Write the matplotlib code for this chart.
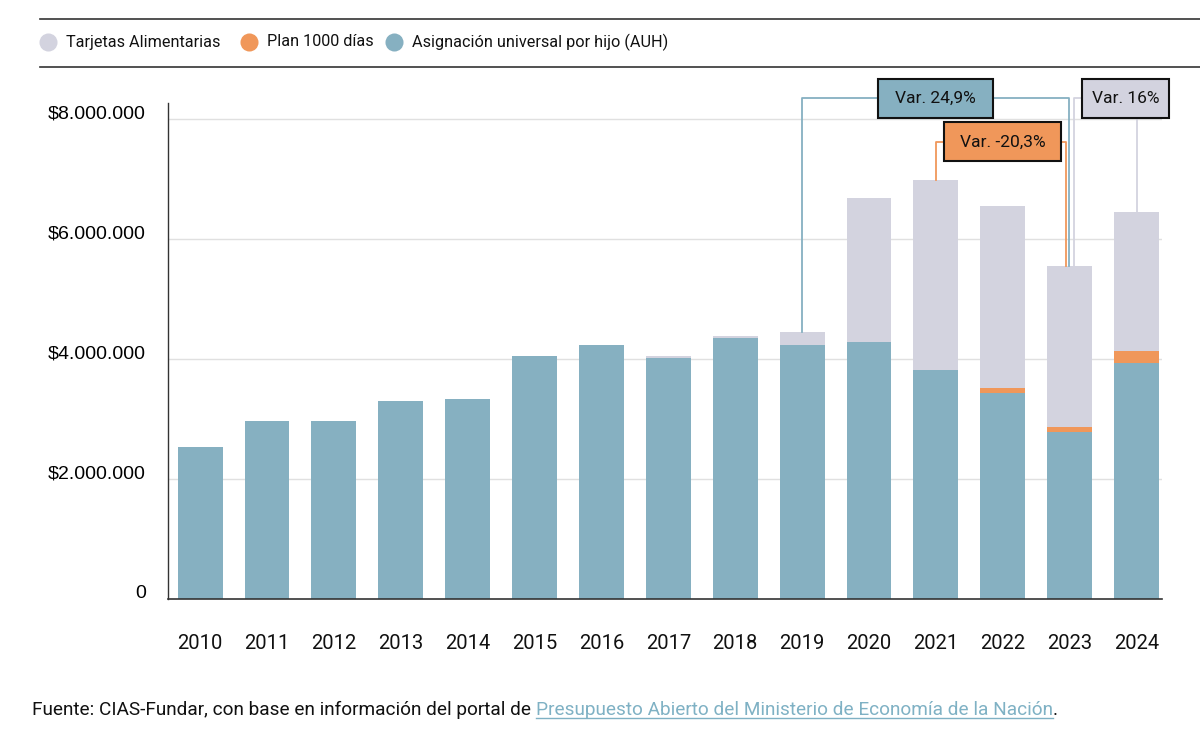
import matplotlib
matplotlib.use("Agg")
import matplotlib.pyplot as plt
from matplotlib.patches import Rectangle
from matplotlib.lines import Line2D
from matplotlib.transforms import offset_copy
import numpy as np

# ---------------- data ----------------
years = ["2010", "2011", "2012", "2013", "2014", "2015", "2016", "2017",
         "2018", "2019", "2020", "2021", "2022", "2023", "2024"]
auh = [2530000, 2970000, 2970000, 3300000, 3330000, 4045000, 4230000, 4020000,
       4350000, 4230000, 4280000, 3820000, 3440000, 2790000, 3940000]
plan1000 = [0, 0, 0, 0, 0, 0, 0, 0, 0, 0, 0, 0, 70000, 70000, 195000]
tarjetas = [0, 0, 0, 0, 0, 0, 0, 30000, 30000, 220000, 2400000, 3160000,
            3040000, 2700000, 2320000]
series_names = ["Tarjetas Alimentarias", "Plan 1000 días",
                "Asignación universal por hijo (AUH)"]
yticks = [0, 2000000, 4000000, 6000000, 8000000]
ytick_labels = ["0", "$2.000.000", "$4.000.000", "$6.000.000", "$8.000.000"]
var_labels = ["Var. 24,9%", "Var. -20,3%", "Var. 16%"]

C_AUH = "#86b0c1"
C_PLAN = "#f0975a"
C_TAR = "#d3d3df"
C_TXT = "#111111"

FONT = "Roboto"

fig = plt.figure(figsize=(12, 7.34), dpi=100)
ax = fig.add_axes([168/1200, 1-599/734, (1162-168)/1200, (599-103)/734])

x = np.arange(len(years))
auh_a = np.array(auh)
plan_a = np.array(plan1000)
tar_a = np.array(tarjetas)
w = 0.67
ax.bar(x, auh_a, width=w, color=C_AUH, zorder=2)
ax.bar(x, plan_a, width=w, bottom=auh_a, color=C_PLAN, zorder=2)
ax.bar(x, tar_a, width=w, bottom=auh_a + plan_a, color=C_TAR, zorder=2)

ax.set_xlim(-0.48, 14.38)
ax.set_ylim(0, 8270000)
ax.set_yticks(yticks)
ax.set_yticklabels(ytick_labels, fontsize=14, family="Liberation Sans", color="#000000")
ax.set_xticks(x)
ax.set_xticklabels(years, fontsize=14.5, family=FONT, color=C_TXT)
ax.tick_params(axis="y", length=0, pad=16)
ax.tick_params(axis="x", length=0, pad=25)
for lab in ax.get_yticklabels():
    lab.set_transform(offset_copy(lab.get_transform(), fig=fig, x=0, y=7, units="dots"))

for y in yticks[1:]:
    ax.axhline(y, color="#e0e0e0", lw=1, zorder=1)
for s in ["top", "right"]:
    ax.spines[s].set_visible(False)
ax.spines["left"].set_color("#333333")
ax.spines["bottom"].set_color("#333333")
ax.spines["left"].set_linewidth(1)
ax.spines["bottom"].set_linewidth(1.2)

# ---------------- annotations ----------------
tot = auh_a + plan_a + tar_a
i19, i21, i23, i24 = 9, 11, 13, 14
lw = 1.3

def box(xc, yc, wd, ht, fc, txt):
    ax.add_patch(Rectangle((xc - wd/2, yc - ht/2), wd, ht, facecolor=fc,
                           edgecolor="#111111", lw=1.5, clip_on=False, zorder=5))
    ax.text(xc, yc, txt, ha="center", va="center", fontsize=12.5, family=FONT,
            color=C_TXT, clip_on=False, zorder=6)

# teal: 2019 -> 2023
yb1 = 8350000
ax.plot([x[i19], x[i19], 10.13], [tot[i19], yb1, yb1], color=C_AUH, lw=lw,
        clip_on=False, zorder=4)
ax.plot([11.85, x[i23] - 0.01, x[i23] - 0.01], [yb1, yb1, tot[i23]], color=C_AUH,
        lw=lw, clip_on=False, zorder=4)
box(10.99, yb1, 1.72, 650000, C_AUH, var_labels[0])

# orange: 2021 -> 2023
yb2 = 7620000
ax.plot([x[i21], x[i21], 11.12], [tot[i21], yb2, yb2], color=C_PLAN, lw=lw,
        clip_on=False, zorder=4)
ax.plot([12.87, x[i23] - 0.055, x[i23] - 0.055], [yb2, yb2, tot[i23]], color=C_PLAN,
        lw=lw, clip_on=False, zorder=4)
box(11.995, yb2, 1.75, 650000, C_PLAN, var_labels[1])

# gray: 2023 -> 2024
ax.plot([13.18, x[i23] + 0.065, x[i23] + 0.065], [yb1, yb1, tot[i23]], color=C_TAR,
        lw=lw, clip_on=False, zorder=3)
ax.plot([x[i24], x[i24]], [yb1 - 325000, tot[i24]], color=C_TAR, lw=lw,
        clip_on=False, zorder=3)
box(13.84, yb1, 1.30, 650000, C_TAR, var_labels[2])

# ---------------- legend ----------------
for yy in [19, 67]:
    fig.add_artist(Line2D([40/1200, 1.0], [1-yy/734, 1-yy/734], color="#333333", lw=1.2))
leg_cols = [C_TAR, C_PLAN, C_AUH]
leg_x = [48, 249, 394]
for cx, col, name in zip(leg_x, leg_cols, series_names):
    fig.add_artist(Line2D([cx/1200], [1-42/734], marker="o", markersize=13,
                          color=col, markeredgewidth=0, linestyle="none"))
    fig.text((cx + 18)/1200, 1-42/734, name, ha="left", va="center",
             fontsize=11.7, family=FONT, color=C_TXT)

# ---------------- footer ----------------
fig.canvas.draw()
r = fig.canvas.get_renderer()
fy = 1 - 710/734
fs = 13.7
t1 = fig.text(32/1200, fy, "Fuente: CIAS-Fundar, con base en información del portal de ",
              ha="left", va="center", fontsize=fs, family=FONT, color=C_TXT)
bb1 = t1.get_window_extent(r)
link = "Presupuesto Abierto del Ministerio de Economía de la Nación"
t2 = fig.text(bb1.x1/1200, fy, link, ha="left", va="center", fontsize=fs,
              family=FONT, color="#7fb1c4")
bb2 = t2.get_window_extent(r)
fig.text(bb2.x1/1200, fy, ".", ha="left", va="center", fontsize=fs,
         family=FONT, color=C_TXT)
uy = (bb2.y0 + 1) / 734
fig.add_artist(Line2D([bb2.x0/1200, bb2.x1/1200], [uy, uy], color="#7fb1c4", lw=1))

fig.savefig("out.png", dpi=100, facecolor="white")
